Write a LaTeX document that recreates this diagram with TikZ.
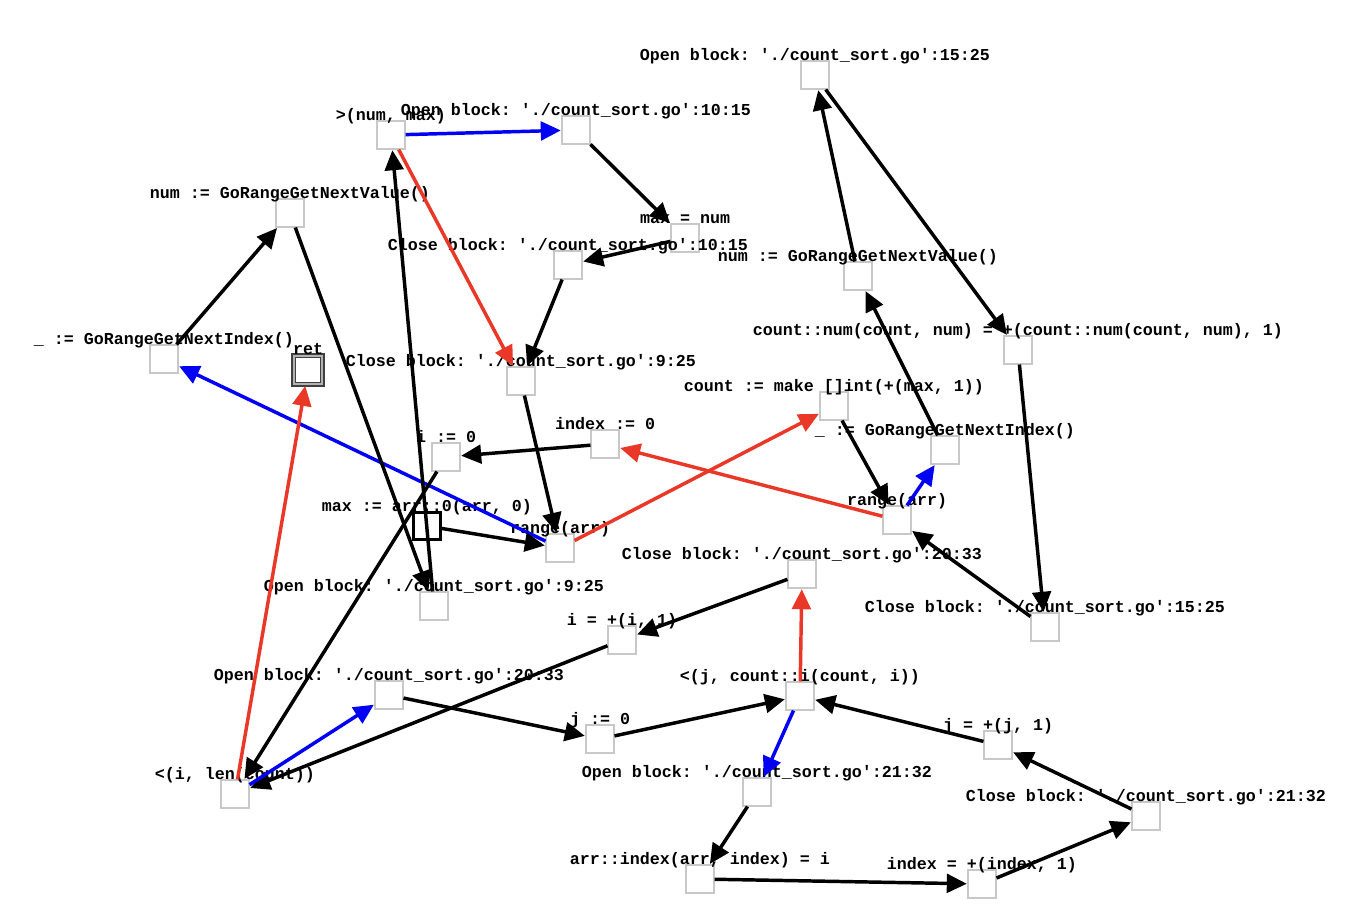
\documentclass[tikz,border=0pt]{standalone}
\usepackage{fontspec}
\setmonofont{Liberation Mono}
\usetikzlibrary{arrows.meta}
\definecolor{ered}{RGB}{234,56,40}
\definecolor{eblue}{RGB}{0,0,245}
\definecolor{boxgray}{RGB}{200,200,200}
\tikzset{
  x=0.75pt, y=-0.75pt,
  lbl/.style={anchor=base, font=\ttfamily\bfseries\fontsize{12.5pt}{14pt}\selectfont, inner sep=0pt, text=black},
  bx/.style={draw=boxgray, line width=0.8pt, fill=white, minimum size=21pt, inner sep=0pt, label distance=6pt},
  startbx/.style={draw=black, line width=2.3pt, fill=white, minimum size=20pt, inner sep=0pt, label distance=6pt},
  endbx/.style={draw=black!75, double=black!30, double distance=1.6pt, line width=1.3pt, fill=white, minimum size=21.5pt, inner sep=0pt, label distance=4pt},
  edge/.style={line width=2.6pt, -{Triangle[length=15pt,width=14pt]}, shorten >=0.5pt},
  blk/.style={edge, draw=black},
  rd/.style={edge, draw=ered},
  bl/.style={edge, draw=eblue},
}
\begin{document}
\begin{tikzpicture}
\useasboundingbox (0,0) rectangle (1348,922);
\fill[white] (0,0) rectangle (1348,922);

\node[bx, label={[lbl]above:{Open block: './count\_sort.go':15:25}}] (ob1525) at (815,75) {};
\node[bx, label={[lbl]above:{>(num, max)}}] (gt) at (391,135) {};
\node[bx, label={[lbl]above:{Open block: './count\_sort.go':10:15}}] (ob1015) at (576,130) {};
\node[bx, label={[lbl]above:{num := GoRangeGetNextValue()}}] (nvL) at (290,213) {};
\node[bx, label={[lbl]above:{max = num}}] (maxnum) at (685,238) {};
\node[bx, label={[lbl]above:{Close block: './count\_sort.go':10:15}}] (cb1015) at (568,265) {};
\node[bx, label={[lbl]above:{num := GoRangeGetNextValue()}}] (nvR) at (858,276) {};
\node[bx, label={[lbl]above:{count::num(count, num) = +(count::num(count, num), 1)}}] (cnum) at (1018,350) {};
\node[bx, label={[lbl]above:{\_ := GoRangeGetNextIndex()}}] (niL) at (164,359) {};
\node[endbx, label={[lbl]above:{ret}}] (ret) at (308,370) {};
\node[bx, label={[lbl]above:{Close block: './count\_sort.go':9:25}}] (cb925) at (521,381) {};
\node[bx, label={[lbl]above:{count := make []int(+(max, 1))}}] (cnt) at (834,406) {};
\node[bx, label={[lbl]above:{index := 0}}] (idx0) at (605,444) {};
\node[bx, label={[lbl]above:{i := 0}}] (i0) at (446,457) {};
\node[bx, label={[lbl]above:{\_ := GoRangeGetNextIndex()}}] (niR) at (945,450) {};
\node[bx, label={[lbl]above:{range(arr)}}] (rgR) at (897,520) {};
\node[startbx, label={[lbl]above:{max := arr::0(arr, 0)}}] (max0) at (427,526) {};
\node[bx, label={[lbl]above:{range(arr)}}] (rgL) at (560,548) {};
\node[bx, label={[lbl]above:{Close block: './count\_sort.go':20:33}}] (cb2033) at (802,574) {};
\node[bx, label={[lbl]above:{Open block: './count\_sort.go':9:25}}] (ob925) at (434,606) {};
\node[bx, label={[lbl]above:{Close block: './count\_sort.go':15:25}}] (cb1525) at (1045,627) {};
\node[bx, label={[lbl]above:{i = +(i, 1)}}] (iinc) at (622,640) {};
\node[bx, label={[lbl]above:{Open block: './count\_sort.go':20:33}}] (ob2033) at (389,695) {};
\node[bx, label={[lbl]above:{<(j, count::i(count, i))}}] (jlt) at (800,696) {};
\node[bx, label={[lbl]above:{j := 0}}] (j0) at (600,739) {};
\node[bx, label={[lbl]above:{j = +(j, 1)}}] (jinc) at (998,745) {};
\node[bx, label={[lbl]above:{<(i, len(count))}}] (ilt) at (235,794) {};
\node[bx, label={[lbl]above:{Open block: './count\_sort.go':21:32}}] (ob2132) at (757,792) {};
\node[bx, label={[lbl]above:{Close block: './count\_sort.go':21:32}}] (cb2132) at (1146,816) {};
\node[bx, label={[lbl]above:{arr::index(arr, index) = i}}] (arrx) at (700,879) {};
\node[bx, label={[lbl]above:{index = +(index, 1)}}] (idxinc) at (982,884) {};

% edges
\draw[bl] (gt) -- (ob1015);
\draw[rd] (gt) -- (cb925);
\draw[blk] (ob1015) -- (maxnum);
\draw[blk] (maxnum) -- (cb1015);
\draw[blk] (cb1015) -- (cb925);
\draw[blk] (cb925) -- (rgL);
\draw[bl] (rgL) -- (niL);
\draw[rd] (rgL) -- (cnt);
\draw[blk] (niL) -- (nvL);
\draw[blk] (nvL) -- (ob925);
\draw[blk] (ob925) -- (gt);
\draw[blk] (max0) -- (rgL);
\draw[blk] (i0) -- (ilt);
\draw[blk] (idx0) -- (i0);
\draw[rd] (rgR) -- (idx0);
\draw[bl] (rgR) -- (niR);
\draw[blk] (cnt) -- (rgR);
\draw[blk] (niR) -- (nvR);
\draw[blk] (nvR) -- (ob1525);
\draw[blk] (ob1525) -- (cnum);
\draw[blk] (cnum) -- (cb1525);
\draw[blk] (cb1525) -- (rgR);
\draw[blk] (cb2033) -- (iinc);
\draw[blk] (iinc) -- (ilt);
\draw[rd] (ilt) -- (ret);
\draw[bl] (ilt) -- (ob2033);
\draw[blk] (ob2033) -- (j0);
\draw[blk] (j0) -- (jlt);
\draw[rd] (jlt) -- (cb2033);
\draw[bl] (jlt) -- (ob2132);
\draw[blk] (ob2132) -- (arrx);
\draw[blk] (arrx) -- (idxinc);
\draw[blk] (idxinc) -- (cb2132);
\draw[blk] (cb2132) -- (jinc);
\draw[blk] (jinc) -- (jlt);
\end{tikzpicture}
\end{document}
